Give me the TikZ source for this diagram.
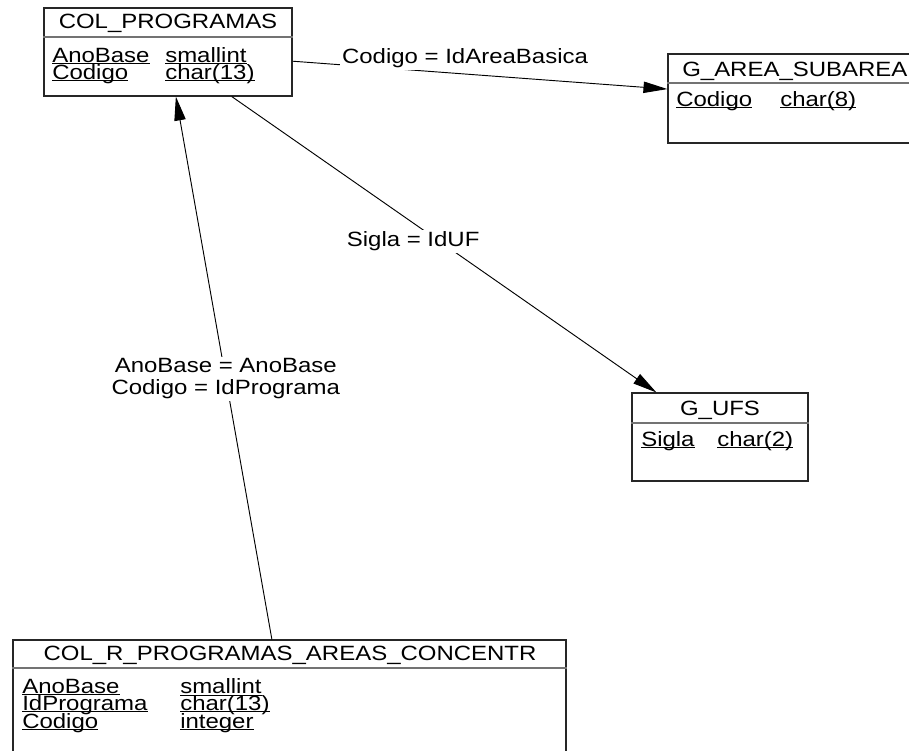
\documentclass[tikz,border=0pt]{standalone}
\usepackage{fontspec}
\setmainfont[FakeStretch=1.16]{Liberation Sans}
\usetikzlibrary{arrows.meta,fit}
\newcommand\ul[1]{\setbox0\hbox{#1}\rlap{\rule[-1.4pt]{\wd0}{0.7pt}}\box0}

\begin{document}
\begin{tikzpicture}[x=0.75pt,y=-0.75pt,
  font=\fontsize{15.5}{16.5}\selectfont,
  tbl/.style={draw=black!85,line width=0.8pt,inner sep=0pt},
  hdr/.style={inner sep=0pt},
  fld/.style={anchor=west,inner sep=0pt},
  lbl/.style={fill=white,inner sep=1.5pt,align=center},
  fk/.style={line width=0.7pt,-{Triangle[length=18pt,width=8.5pt]}},
  sepline/.style={draw=black!55,line width=0.8pt}]
\useasboundingbox (0,0) rectangle (909,750);
% tables
\node[tbl,fit={(44,8) (292,96)}] (colprog) {};
\node[tbl,fit={(668,54) (922,143)}] (garea) {};
\node[tbl,fit={(632,393) (808,481)}] (gufs) {};
\node[tbl,fit={(13,640) (566,838)}] (colr) {};
% header lines
\draw[sepline] (colprog.west |- 0,37) -- (colprog.east |- 0,37);
\draw[sepline] (garea.west |- 0,83) -- (garea.east |- 0,83);
\draw[sepline] (gufs.west |- 0,423) -- (gufs.east |- 0,423);
\draw[sepline] (colr.west |- 0,668) -- (colr.east |- 0,668);
% titles
\node[hdr] (t1) at (168,23) {COL\_PROGRAMAS};
\node[hdr,anchor=west] (t2) at (682,71) {G\_AREA\_SUBAREA};
\node[hdr] (t3) at (720,410) {G\_UFS};
\node[hdr] (t4) at (290,655) {COL\_R\_PROGRAMAS\_AREAS\_CONCENTR};
% fields
\node[fld] (p1) at (52,56) {\ul{AnoBase}};
\node[fld] (p1t) at (165,56) {\ul{smallint}};
\node[fld] (p2) at (52,74) {\ul{Codigo}};
\node[fld] (p2t) at (165,74) {\ul{char(13)}};
\node[fld] (a1) at (676,101) {\ul{Codigo}};
\node[fld] (a1t) at (780,101) {\ul{char(8)}};
\node[fld] (u1) at (641,441) {\ul{Sigla}};
\node[fld] (u1t) at (717,441) {\ul{char(2)}};
\node[fld] (r1) at (22,687) {\ul{AnoBase}};
\node[fld] (r1t) at (180,687) {\ul{smallint}};
\node[fld] (r2) at (22,705) {\ul{IdPrograma}};
\node[fld] (r2t) at (180,705) {\ul{char(13)}};
\node[fld] (r3) at (22,723) {\ul{Codigo}};
\node[fld] (r3t) at (180,723) {\ul{integer}};
% references
\draw[fk] (colprog) -- (garea) node[lbl,pos=.46,yshift=12pt] (l1) {Codigo = IdAreaBasica};
\draw[fk] (colprog) -- (gufs) node[lbl,pos=.49,xshift=-20pt] (l2) {Sigla = IdUF};
\draw[fk] (colr) -- (colprog) node[lbl,pos=.48] (l3) {AnoBase = AnoBase\\Codigo = IdPrograma};
\end{tikzpicture}
\end{document}
